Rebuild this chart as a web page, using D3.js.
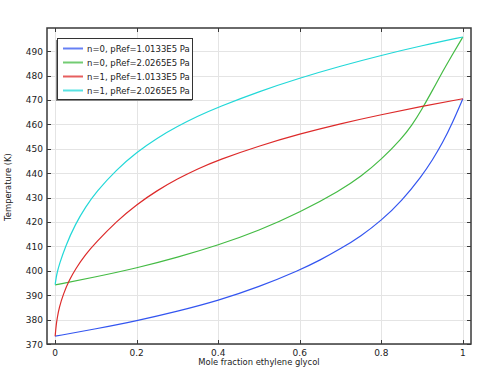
<!DOCTYPE html>
<html>
<head>
<meta charset="utf-8">
<script src="https://d3js.org/d3.v7.min.js"></script>
<style>
  body { margin: 0; background: #fff; }
  svg text { font-family: "DejaVu Sans", sans-serif; fill: #222; }
</style>
</head>
<body>
<div id="chart"></div>
<script>
// series labels
var seriesNames = ["n=0, pRef=1.0133E5 Pa", "n=0, pRef=2.0265E5 Pa",
                   "n=1, pRef=1.0133E5 Pa", "n=1, pRef=2.0265E5 Pa"];
var seriesColors = ["#3355f0", "#44bb44", "#dd2a2a", "#22d8d8"];

// n=0, 1 atm
var x0a = [0, 0.1, 0.2, 0.3, 0.4, 0.5, 0.6, 0.65, 0.7, 0.75, 0.8, 0.85, 0.9, 0.925, 0.95, 0.975, 1];
var t0a = [373.2, 376.2, 379.5, 383.4, 387.8, 393.4, 400.3, 404.4, 409.0, 414.2, 420.6, 428.6, 439.0, 445.3, 452.3, 460.8, 470.5];
// n=0, 2 atm
var x0b = [0, 0.1, 0.2, 0.3, 0.4, 0.5, 0.6, 0.7, 0.75, 0.8, 0.85, 0.875, 0.9, 0.925, 0.95, 0.975, 1];
var t0b = [394.2, 397.5, 401.1, 405.5, 410.5, 416.5, 423.9, 433.0, 438.6, 445.6, 454.2, 459.6, 466.3, 473.8, 481.5, 488.8, 495.8];
// n=1, 1 atm
var x1a = [0, 0.0025, 0.005, 0.01, 0.02, 0.035, 0.05, 0.075, 0.1, 0.15, 0.2, 0.25, 0.3, 0.35, 0.4, 0.5, 0.6, 0.7, 0.8, 0.9, 1];
var t1a = [373.2, 377.8, 380.6, 385.0, 390.5, 396.3, 400.8, 406.8, 411.6, 420.2, 427.2, 432.9, 437.7, 441.8, 445.4, 451.2, 456.1, 460.3, 464.0, 467.4, 470.5];
// n=1, 2 atm
var x1b = [0, 0.0025, 0.005, 0.01, 0.025, 0.05, 0.075, 0.1, 0.15, 0.2, 0.25, 0.3, 0.35, 0.4, 0.5, 0.6, 0.7, 0.8, 0.9, 1];
var t1b = [394.3, 397.3, 399.3, 402.5, 410.0, 419.3, 426.3, 432.2, 441.4, 448.6, 454.4, 459.2, 463.4, 467.1, 473.5, 479.0, 483.9, 488.3, 492.3, 495.8];

var xTicks = [0, 0.2, 0.4, 0.6, 0.8, 1];
var yTicks = [370, 380, 390, 400, 410, 420, 430, 440, 450, 460, 470, 480, 490];

var W = 479, H = 371;
var pLeft = 47, pTop = 28, pRight = 471, pBottom = 344;

var svg = d3.select("#chart").append("svg")
    .attr("width", W).attr("height", H);

var x = d3.scaleLinear().domain([-0.02, 1.02]).range([pLeft, pRight]);
var y = d3.scaleLinear().domain([370, 499.5]).range([pBottom, pTop]);

// grid
svg.append("g").selectAll("line").data(xTicks).enter().append("line")
    .attr("x1", d => Math.round(x(d)) + 0.5).attr("x2", d => Math.round(x(d)) + 0.5)
    .attr("y1", pTop).attr("y2", pBottom)
    .attr("stroke", "#e4e4e4").attr("stroke-width", 1);
svg.append("g").selectAll("line").data(yTicks).enter().append("line")
    .attr("y1", d => Math.round(y(d)) + 0.5).attr("y2", d => Math.round(y(d)) + 0.5)
    .attr("x1", pLeft).attr("x2", pRight)
    .attr("stroke", "#e4e4e4").attr("stroke-width", 1);

// curves
var series = [[x0a, t0a], [x0b, t0b], [x1a, t1a], [x1b, t1b]];
var line = d3.line().x(d => x(d[0])).y(d => y(d[1])).curve(d3.curveBasis);
series.forEach(function(s, i) {
    var pts = s[0].map((v, j) => [v, s[1][j]]);
    svg.append("path").datum(pts)
        .attr("d", line)
        .attr("fill", "none")
        .attr("stroke", seriesColors[i])
        .attr("stroke-width", 1.2);
});

// frame with inward ticks
var ax = svg.append("g").attr("stroke", "#3a3a3a");
ax.append("rect").attr("x", pLeft).attr("y", pTop)
    .attr("width", pRight - pLeft).attr("height", pBottom - pTop)
    .attr("fill", "none").attr("stroke-width", 1.5);
xTicks.forEach(function(d) {
    var px = Math.round(x(d)) + 0.5;
    ax.append("line").attr("x1", px).attr("x2", px).attr("y1", pBottom).attr("y2", pBottom - 4);
    ax.append("line").attr("x1", px).attr("x2", px).attr("y1", pTop).attr("y2", pTop + 4);
});
yTicks.forEach(function(d) {
    var py = Math.round(y(d)) + 0.5;
    ax.append("line").attr("x1", pLeft).attr("x2", pLeft + 4).attr("y1", py).attr("y2", py);
    ax.append("line").attr("x1", pRight).attr("x2", pRight - 4).attr("y1", py).attr("y2", py);
});

// tick labels
svg.append("g").selectAll("text").data(xTicks).enter().append("text")
    .attr("x", d => x(d)).attr("y", pBottom + 12)
    .attr("text-anchor", "middle").attr("font-size", 9)
    .text(d => d3.format("~g")(d));
svg.append("g").selectAll("text").data(yTicks).enter().append("text")
    .attr("x", pLeft - 4).attr("y", d => y(d) + 3.5)
    .attr("text-anchor", "end").attr("font-size", 9)
    .text(d => d);

// axis titles
svg.append("text").attr("x", (pLeft + pRight) / 2).attr("y", pBottom + 21)
    .attr("text-anchor", "middle").attr("font-size", 8.4)
    .text("Mole fraction ethylene glycol");
svg.append("text")
    .attr("transform", "translate(11," + ((pTop + pBottom) / 2 + 1) + ") rotate(-90)")
    .attr("text-anchor", "middle").attr("font-size", 8.4)
    .text("Temperature (K)");

// legend
var lg = svg.append("g");
lg.append("rect").attr("x", 56).attr("y", 40).attr("width", 136).attr("height", 61)
    .attr("fill", "#888");
lg.append("rect").attr("x", 57.5).attr("y", 38.5).attr("width", 135).attr("height", 61)
    .attr("fill", "#fff").attr("stroke", "#333").attr("stroke-width", 1);
seriesNames.forEach(function(name, i) {
    var ly = 48.5 + i * 14;
    lg.append("line").attr("x1", 63).attr("x2", 83).attr("y1", ly).attr("y2", ly)
        .attr("stroke", seriesColors[i]).attr("stroke-width", 2).attr("stroke-opacity", 0.75);
    lg.append("text").attr("x", 87).attr("y", ly + 3).attr("font-size", 8.5).text(name);
});
</script>
</body>
</html>
